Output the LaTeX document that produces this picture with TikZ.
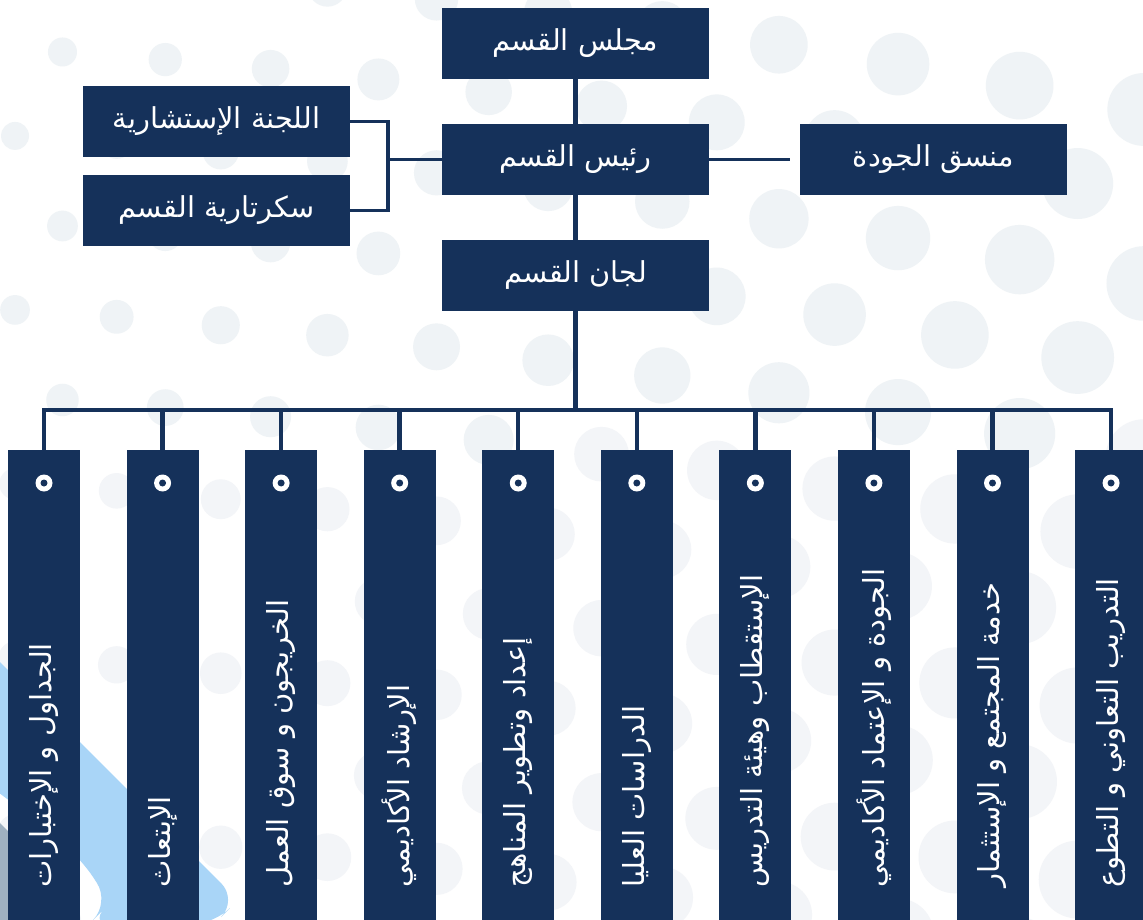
\documentclass[tikz,border=0pt]{standalone}
\usepackage{fontspec}
\TeXXeTstate=1
\newfontfamily\arabicfont[Script=Arabic]{DejaVu Sans}
\definecolor{navy}{HTML}{15315A}
\definecolor{dotc}{HTML}{EFF3F6}
\definecolor{dotlow}{HTML}{F3F5F8}
\definecolor{bandblue}{HTML}{A9D5F7}
\definecolor{bandgrey}{HTML}{9FB1C1}
\newcommand{\artxt}[1]{{\arabicfont\beginR #1\endR}}
\begin{document}
\begin{tikzpicture}[x=0.5pt,y=-0.5pt,
  topbox/.style={fill=navy, minimum width=133.5pt, minimum height=35.5pt, inner sep=0pt,
    text=white, font=\arabicfont\fontsize{14.4}{16}\selectfont},
  colbox/.style={fill=navy, minimum width=36pt, minimum height=240pt, inner sep=0pt, anchor=north},
  coltext/.style={rotate=90, anchor=west, text=white, inner sep=0pt,
    font=\arabicfont\fontsize{14.5}{16}\selectfont},
  link/.style={draw=navy, line width=2.2pt},
  sidelink/.style={draw=navy, line width=1.7pt},
]
\useasboundingbox (0,0) rectangle (1143,919);
\clip (0,0) rectangle (1143,919);
\fill[white] (0,0) rectangle (1143,919);
% background dots
\foreach \j in {0,...,11}{
  \foreach \i in {-1,...,11}{
    \pgfmathsetmacro\u{\i*100 + 15 + mod(\j,2)*47}
    \pgfmathsetmacro\X{\u*(1+\u/8000)}
    \pgfmathsetmacro\Y{-39+87*\j + 0.06*\X + 0.00006*\X*\X}
    \pgfmathsetmacro\R{13+0.02*\X+0.005*\Y}
    \pgfmathsetmacro\low{\Y>440 ? 1 : 0}
    \ifdim\low pt>0.5pt
      \fill[dotlow] (\X,\Y) circle[radius=\R];
    \else
      \fill[dotc] (\X,\Y) circle[radius=\R];
    \fi
  }
}
% decorative bands bottom left
\fill[bandgrey] (-30,793) -- (76,899) -- (50,925) -- (-30,925) -- cycle;
\fill[bandblue, rounded corners=12pt] (-30,632) -- (238,900) -- (213,925) -- (88,925)
  -- (110,903) -- (80,857) -- (0,793) -- (-30,772) -- cycle;
% top nodes
\node[topbox] (majlis) at (575.5,43.5) {\artxt{مجلس القسم}};
\node[topbox] (rais) at (575.5,159.5) {\artxt{رئيس القسم}};
\node[topbox] (lijan) at (575.5,275.5) {\artxt{لجان القسم}};
\node[topbox] (adv) at (216.5,121.5) {\artxt{اللجنة الإستشارية}};
\node[topbox] (sec) at (216.5,210.5) {\artxt{سكرتارية القسم}};
\node[topbox] (qual) at (933.5,159.5) {\artxt{منسق الجودة}};
\coordinate (bx) at (388,0);
\coordinate (busL) at (44,410);
\coordinate (busR) at (1111,410);
\draw[link] (majlis) -- (rais);
\draw[link] (rais) -- (lijan);
\draw[sidelink] (adv.east) -- (adv.east -| bx) -- (sec.east -| bx) -- (sec.east);
\draw[sidelink] (rais.west) -- (rais.west -| bx);
\draw[sidelink, shorten >=5pt] (rais.east) -- (qual.west);
\draw[link] (lijan.south) -- (lijan.south |- busL);
\draw[link, line cap=rect] (busL) -- (busR);
% columns
\foreach \k/\txt in {1/{الجداول و الإختبارات},2/{الإبتعاث},3/{الخريجون و سوق العمل},
  4/{الإرشاد الأكاديمي},5/{إعداد وتطوير المناهج},6/{الدراسات العليا},
  7/{الإستقطاب وهيئة التدريس},8/{الجودة و الإعتماد الأكاديمي},
  9/{خدمة المجتمع و الإستثمار},10/{التدريب التعاوني و التطوع}}{
  \pgfmathsetmacro\cx{44+(\k-1)*118.56}
  \node[colbox] (b\k) at (\cx,450) {};
  \draw[link] (b\k.north) -- (b\k.north |- busL);
  \fill[white] (\cx,483) circle[radius=8.5];
  \fill[navy] (\cx,483) circle[radius=3.5];
  \node[coltext] (t\k) at (\cx,888) {\artxt{\txt}};
}
\end{tikzpicture}
\end{document}
